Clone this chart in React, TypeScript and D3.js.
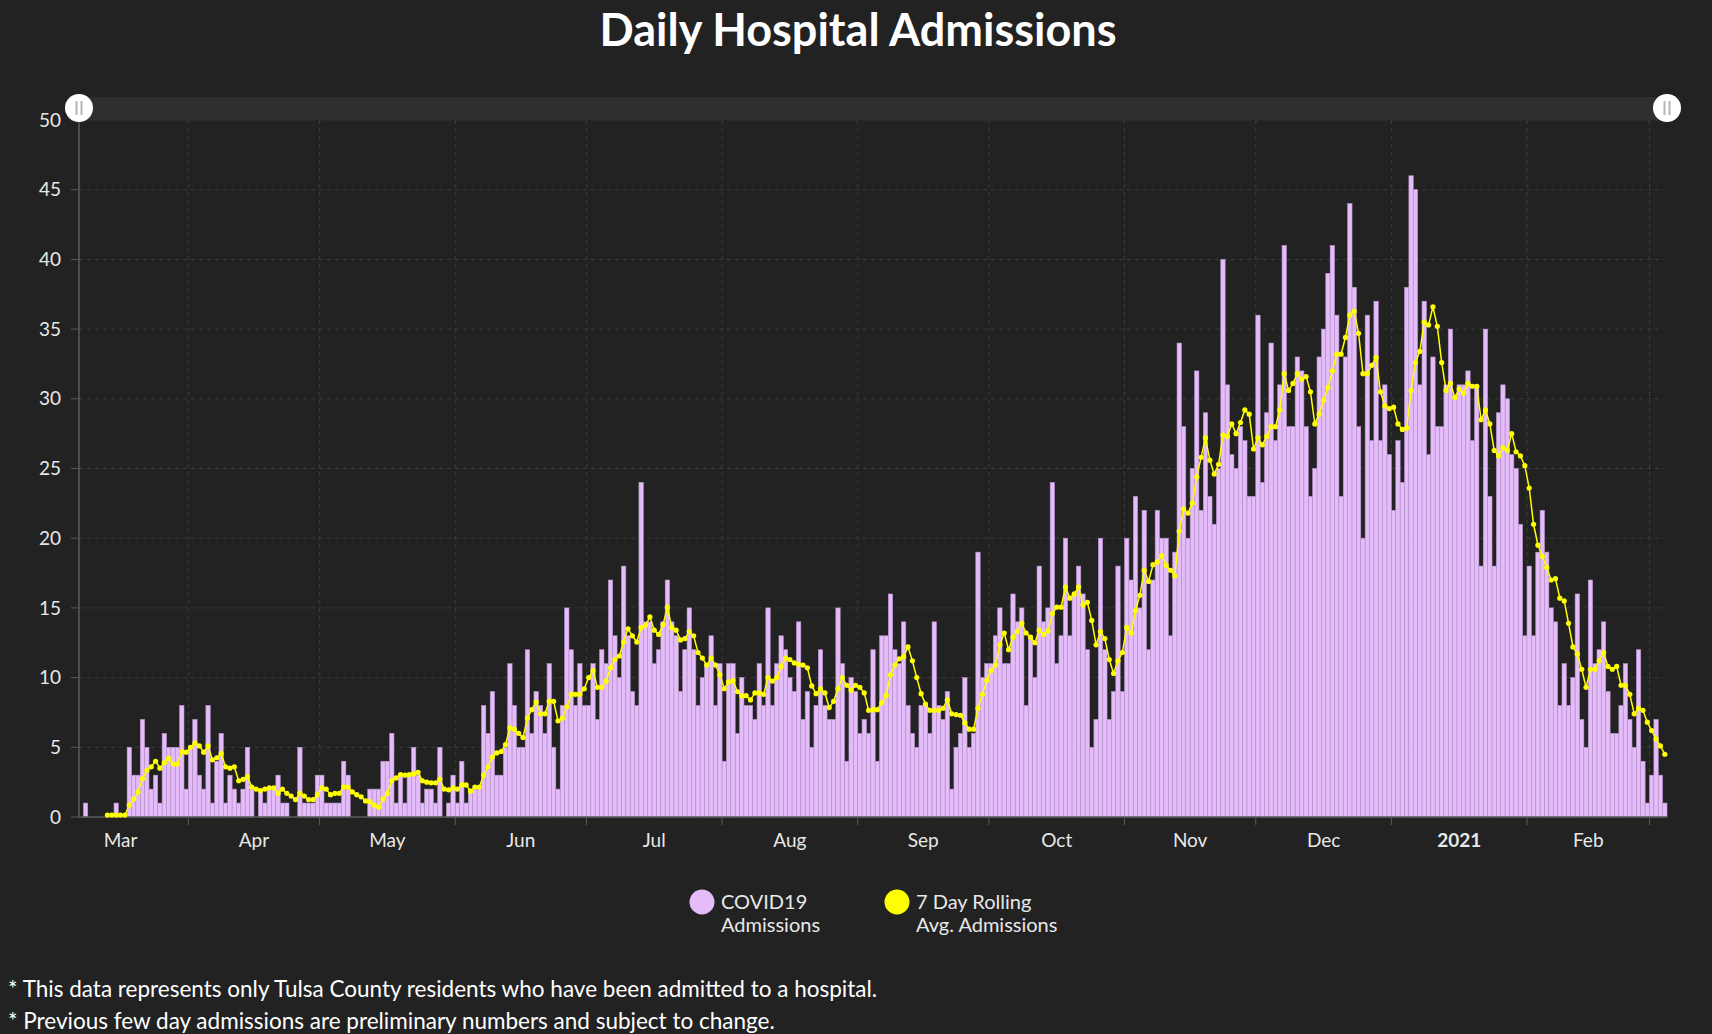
import React from "react";
import * as d3 from "d3";

// daily admissions, one value per day starting 2020-03-07
const firstDay = "2020-03-07";
const admissions = [
  0, 1, 0, 0, 0, 0, 0, 0, 1, 0,
  0, 5, 3, 3, 7, 5, 2, 3, 1, 6,
  5, 5, 5, 8, 2, 5, 7, 3, 2, 8,
  1, 4, 6, 1, 3, 2, 1, 2, 5, 2,
  0, 2, 1, 2, 2, 3, 1, 1, 0, 0,
  5, 1, 1, 1, 3, 3, 1, 1, 1, 1,
  4, 3, 0, 0, 0, 0, 2, 2, 2, 4,
  4, 6, 1, 3, 1, 3, 5, 3, 1, 2,
  2, 1, 5, 0, 1, 3, 1, 4, 1, 2,
  2, 2, 8, 6, 9, 3, 3, 5, 11, 8,
  5, 5, 12, 6, 9, 8, 6, 11, 5, 2,
  8, 15, 12, 8, 11, 8, 8, 11, 7, 12,
  11, 17, 13, 10, 18, 13, 9, 8, 24, 14,
  14, 11, 12, 14, 17, 14, 13, 9, 12, 15,
  12, 8, 10, 11, 13, 8, 11, 4, 11, 11,
  6, 10, 8, 8, 7, 11, 8, 15, 8, 11,
  13, 12, 10, 9, 14, 7, 9, 5, 8, 12,
  8, 7, 7, 15, 11, 4, 10, 9, 6, 7,
  6, 12, 4, 13, 13, 16, 12, 11, 14, 8,
  6, 5, 8, 8, 6, 14, 8, 7, 9, 2,
  5, 6, 10, 5, 6, 19, 10, 11, 11, 13,
  15, 11, 11, 16, 14, 15, 8, 13, 10, 18,
  14, 15, 24, 11, 13, 20, 13, 16, 18, 16,
  12, 5, 7, 20, 12, 7, 9, 18, 9, 20,
  17, 23, 15, 22, 12, 17, 22, 20, 20, 13,
  19, 34, 28, 20, 25, 32, 22, 29, 23, 21,
  25, 40, 31, 26, 25, 28, 27, 23, 23, 36,
  24, 29, 34, 27, 31, 41, 28, 28, 33, 32,
  28, 23, 25, 33, 35, 39, 41, 36, 23, 33,
  44, 38, 28, 20, 36, 27, 37, 27, 31, 26,
  22, 27, 24, 38, 46, 45, 31, 37, 26, 33,
  28, 28, 31, 35, 30, 31, 31, 32, 27, 31,
  18, 35, 23, 18, 29, 31, 30, 26, 25, 21,
  13, 18, 13, 19, 22, 19, 15, 14, 8, 11,
  8, 10, 16, 7, 5, 17, 11, 12, 14, 9,
  6, 6, 8, 11, 7, 5, 12, 4, 1, 3,
  7, 3, 1,
];

// 7 day rolling average, starting 2020-03-13
const avgFirstDay = "2020-03-13";
const rollingAvg = [
  0.14, 0.14, 0.14, 0.14,
  0.14, 0.86, 1.3, 1.8, 2.75, 3.35, 3.6, 4.0, 3.5, 3.9,
  4.2, 3.8, 3.8, 4.7, 4.65, 5.0, 5.3, 5.1, 4.65, 5.1,
  4.1, 4.25, 4.55, 3.6, 3.5, 3.6, 2.6, 2.7, 2.9, 2.15,
  2.0, 1.9, 2.0, 2.1, 2.1, 1.7, 2.0, 1.7, 1.5, 1.25,
  1.7, 1.5, 1.25, 1.25, 1.6, 2.1, 2.0, 1.6, 1.7, 1.7,
  2.15, 2.15, 1.8, 1.6, 1.45, 1.15, 1.1, 0.85, 0.7, 1.3,
  1.7, 2.6, 2.8, 3.05, 3.0, 3.05, 3.1, 3.2, 2.6, 2.5,
  2.45, 2.45, 2.7, 2.0, 1.95, 2.1, 2.0, 2.3, 2.3, 1.85,
  2.15, 2.15, 3.0, 3.6, 4.3, 4.6, 4.7, 5.2, 6.4, 6.3,
  6.0, 5.7, 7.1, 7.7, 8.25, 7.4, 7.4, 8.3, 8.3, 6.9,
  7.1, 7.9, 8.8, 8.8, 8.8, 9.2, 10.0, 10.5, 9.3, 9.3,
  9.75, 10.7, 11.3, 11.55, 12.55, 13.5, 13.0, 12.55, 13.6, 13.75,
  14.35, 13.4, 13.1, 13.8, 15.05, 13.6, 13.4, 12.7, 12.8, 13.3,
  13.0, 11.8, 11.4, 10.9, 11.4, 10.9, 10.2, 9.2, 9.7, 9.8,
  9.0, 8.7, 8.7, 8.4, 8.9, 8.9, 8.8, 10.0, 9.75, 10.0,
  10.8, 11.4, 11.3, 11.05, 10.95, 10.9, 10.7, 9.4, 8.85, 9.2,
  8.9, 7.85, 8.3, 9.2, 10.0, 9.45, 9.1, 9.45, 9.3, 8.9,
  7.65, 7.7, 7.7, 8.2, 8.7, 10.2, 10.9, 11.35, 11.5, 12.2,
  11.2, 10.0, 8.85, 8.1, 7.65, 7.65, 7.65, 7.8, 8.4, 7.4,
  7.35, 7.3, 6.75, 6.3, 6.3, 7.8, 8.8, 9.8, 10.5, 10.9,
  12.35, 13.2, 12.0, 12.9, 13.3, 13.9, 13.2, 12.9, 12.5, 13.4,
  13.1, 13.35, 14.6, 15.05, 15.05, 16.5, 15.7, 16.0, 16.5, 15.2,
  15.4, 14.1, 12.35, 13.3, 12.8, 11.3, 10.3, 11.2, 11.8, 13.6,
  13.2, 14.8, 15.9, 17.7, 16.9, 18.1, 18.3, 18.75, 18.05, 17.7,
  17.3, 20.5, 22.1, 21.8, 22.5, 24.4, 25.8, 27.2, 25.6, 24.6,
  25.3, 27.4, 27.3, 28.2, 27.5, 28.3, 29.2, 28.9, 26.4, 27.2,
  26.7, 27.3, 28.0, 28.0, 29.2, 31.8, 30.6, 31.1, 31.8, 31.4,
  31.6, 30.5, 28.2, 28.9, 29.9, 30.8, 32.0, 33.2, 33.2, 34.4,
  36.0, 36.3, 34.7, 31.8, 31.8, 32.4, 32.95, 30.5, 29.5, 29.3,
  29.4, 28.2, 27.8, 27.9, 30.6, 32.6, 33.4, 35.5, 35.3, 36.6,
  35.2, 32.6, 30.6, 31.1, 30.1, 30.7, 30.4, 31.1, 30.9, 30.9,
  28.5, 29.2, 28.2, 26.3, 25.9, 26.5, 26.3, 27.5, 26.2, 25.9,
  25.2, 23.6, 21.0, 19.5, 18.7, 17.9, 17.0, 17.1, 15.7, 15.5,
  13.9, 12.2, 11.7, 10.6, 9.3, 10.6, 10.6, 11.2, 11.8, 10.8,
  10.6, 10.8, 9.45, 9.45, 8.8, 7.4, 7.8, 7.65, 6.8, 6.2,
  5.6, 5.1, 4.5,
];

const yTicks = [0, 5, 10, 15, 20, 25, 30, 35, 40, 45, 50];
const monthLabels = ["Mar", "Apr", "May", "Jun", "Jul", "Aug", "Sep", "Oct", "Nov", "Dec", "2021", "Feb"];
const seriesNames = [["COVID19", "Admissions"], ["7 Day Rolling", "Avg. Admissions"]];
const notes = [
  "* This data represents only Tulsa County residents who have been admitted to a hospital.",
  "* Previous few day admissions are preliminary numbers and subject to change.",
];

const W = 1712;
const H = 1034;
const plot = { left: 79, right: 1667, top: 120, bottom: 817 };
const font = "Lato, 'Open Sans', sans-serif";
const purple = "#e3bcf9";
const yellow = "#ffff00";

export default function App() {
  const parse = d3.timeParse("%Y-%m-%d");
  const start = parse(firstDay) as Date;
  const end = d3.timeDay.offset(start, admissions.length);
  const avgStart = parse(avgFirstDay) as Date;

  const x = d3.scaleTime().domain([start, end]).range([plot.left, plot.right]);
  const y = d3.scaleLinear().domain([0, 50]).range([plot.bottom, plot.top]);

  const bars = admissions.map((v, i) => ({ date: d3.timeDay.offset(start, i), value: v }));
  const avg = rollingAvg.map((v, i) => ({ date: d3.timeDay.offset(avgStart, i), value: v }));
  const half = (d: Date) => d3.timeHour.offset(d, 12);

  const line = d3
    .line<{ date: Date; value: number }>()
    .x((d) => x(half(d.date)))
    .y((d) => y(d.value));

  // month starts inside the axis -> grid + ticks
  const monthStarts = d3.timeMonth.range(d3.timeMonth.ceil(start), end);
  // labels sit in the middle of each month
  const labelMonths = d3.timeMonth.range(d3.timeMonth.floor(start), end).slice(0, monthLabels.length);

  return (
    <svg
      width={W}
      height={H}
      style={{ position: "absolute", left: 0, top: 0, display: "block", background: "#222222" }}
    >
      <rect x={0} y={0} width={W} height={H} fill="#222222" />
      <text x={858} y={46} textAnchor="middle" fill="#ffffff" fontFamily={font} fontWeight={700} fontSize={45}>
        Daily Hospital Admissions
      </text>

      {/* horizontal grid */}
      {yTicks.slice(1).map((t) => (
        <line key={"h" + t} x1={plot.left} x2={plot.right - 3} y1={y(t)} y2={y(t)} stroke="#3c3c3c" strokeDasharray="4,4" />
      ))}
      {/* vertical grid */}
      {monthStarts.map((m) => (
        <line key={"v" + m.getTime()} x1={x(m)} x2={x(m)} y1={plot.top} y2={plot.bottom} stroke="#3c3c3c" strokeDasharray="4,4" />
      ))}

      {/* bars */}
      {bars.map((d) =>
        d.value > 0 ? (
          <rect
            key={d.date.getTime()}
            x={x(d.date)}
            y={y(d.value)}
            width={x(d3.timeDay.offset(d.date, 1)) - x(d.date)}
            height={y(0) - y(d.value)}
            fill={purple}
            stroke="#b894cc"
            strokeWidth={0.6}
          />
        ) : null
      )}

      {/* axes */}
      <line x1={plot.left} x2={plot.left} y1={plot.top} y2={plot.bottom} stroke="#5a5a5a" strokeWidth={1.5} />
      <line x1={plot.left} x2={plot.right} y1={plot.bottom} y2={plot.bottom} stroke="#5a5a5a" strokeWidth={1.5} />
      {yTicks.map((t) => (
        <g key={"yt" + t}>
          <line x1={plot.left - 8} x2={plot.left} y1={y(t)} y2={y(t)} stroke="#5a5a5a" />
          <text x={61} y={y(t)} dy="0.35em" textAnchor="end" fill="#e8e8e8" fontFamily={font} fontSize={19}>
            {t}
          </text>
        </g>
      ))}
      {monthStarts.map((m) => (
        <line key={"xt" + m.getTime()} x1={x(m)} x2={x(m)} y1={plot.bottom} y2={plot.bottom + 8} stroke="#5a5a5a" />
      ))}
      {labelMonths.map((m, i) => {
        const cx = (x(m) + x(d3.timeMonth.offset(m, 1))) / 2;
        return (
          <text
            key={"xl" + i}
            x={cx}
            y={847}
            textAnchor="middle"
            fill="#e8e8e8"
            fontFamily={font}
            fontSize={19}
            fontWeight={monthLabels[i] === "2021" ? 700 : 400}
          >
            {monthLabels[i]}
          </text>
        );
      })}

      {/* rolling average */}
      <path d={line(avg) || ""} fill="none" stroke={yellow} strokeWidth={1.5} />
      {avg.map((d) => (
        <circle key={"p" + d.date.getTime()} cx={x(half(d.date))} cy={y(d.value)} r={2.6} fill={yellow} />
      ))}

      {/* scrollbar */}
      <rect x={plot.left} y={97} width={plot.right - plot.left} height={23} fill="#2f2f2f" />
      {[plot.left, plot.right].map((gx) => (
        <g key={"g" + gx}>
          <circle cx={gx} cy={108} r={14} fill="#ffffff" />
          <rect x={gx - 3.5} y={101} width={2} height={14} fill="#b5b5b5" />
          <rect x={gx + 1.5} y={101} width={2} height={14} fill="#b5b5b5" />
        </g>
      ))}

      {/* legend */}
      {seriesNames.map((name, i) => {
        const lx = i === 0 ? 702 : 897;
        return (
          <g key={"lg" + i}>
            <circle cx={lx} cy={902} r={12.5} fill={i === 0 ? purple : yellow} />
            <text x={lx + 19} y={909} fill="#e8e8e8" fontFamily={font} fontSize={20}>
              <tspan x={lx + 19}>{name[0]}</tspan>
              <tspan x={lx + 19} dy={23}>{name[1]}</tspan>
            </text>
          </g>
        );
      })}

      {/* notes */}
      {notes.map((n, i) => (
        <text key={"n" + i} x={8} y={997 + i * 32} fill="#ffffff" fontFamily={font} fontSize={22.5}>
          {n}
        </text>
      ))}
    </svg>
  );
}
